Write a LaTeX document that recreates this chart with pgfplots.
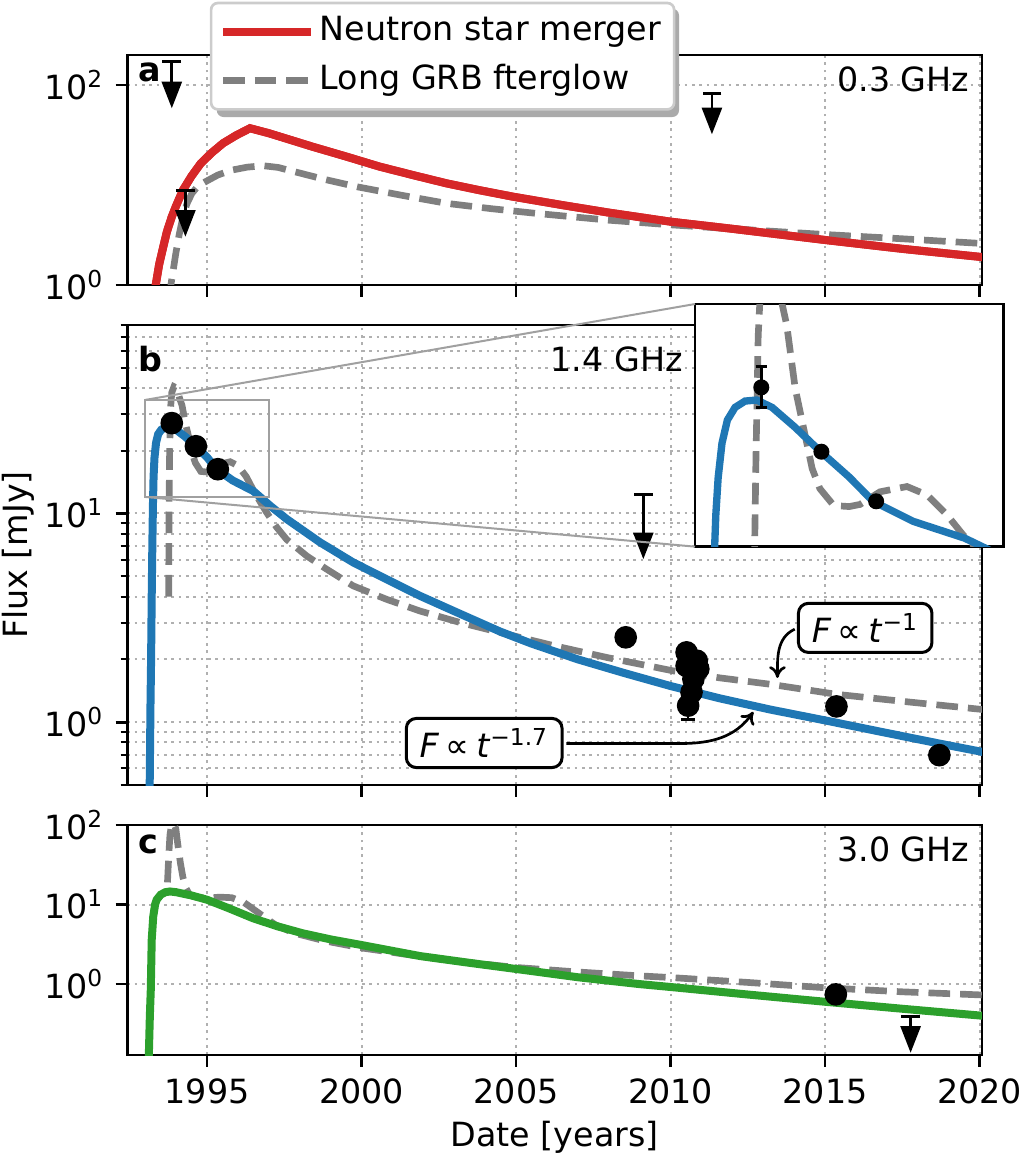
\documentclass[border=0pt]{standalone}
\usepackage{fontspec}
\setmainfont{DejaVu Sans}
\usepackage{pgfplots}
\pgfplotsset{compat=1.18}
\usetikzlibrary{arrows.meta}
\definecolor{nsred}{RGB}{214,39,40}
\definecolor{mblue}{RGB}{31,119,180}
\definecolor{mgreen}{RGB}{44,160,44}
\definecolor{mgray}{RGB}{127,127,127}
\definecolor{gridgray}{RGB}{176,176,176}
\definecolor{legedge}{RGB}{204,204,204}
\definecolor{shadowgray}{RGB}{170,170,170}
\definecolor{insetgray}{RGB}{160,160,160}

\begin{document}
\begin{tikzpicture}

% ---------------- panel a : 0.3 GHz ----------------
\begin{axis}[scale only axis, width=256.41pt, height=69pt, anchor=south west, at={(38.19pt,260.7pt)},
  xmin=1992.42, xmax=2020.08, ymode=log, ymin=1, ymax=200,
  xtick={1995,2000,2005,2010,2015,2020}, xticklabels={},
  ytick={1,100}, yticklabels={10\textsuperscript{0},10\textsuperscript{2}},
  tick pos=left, tick align=outside, major tick length=3.5pt,
  major tick style={black, line width=0.8pt},
  axis line style={line width=0.8pt},
  xmajorgrids=true, ymajorgrids=true, yminorticks=false,
  major grid style={gridgray, line width=0.6pt, dash pattern=on 0.8pt off 1.4pt},
  clip mode=individual,
  legend cell align=left,
  legend image code/.code={\draw[#1] (0pt,0pt) -- (22.7pt,0pt); \path (0pt,0pt) -- (26.3pt,0pt);},
  legend style={at={(0.0965,1.2317)}, anchor=north west, draw=legedge, line width=0.8pt,
    fill=white, rounded corners=2pt, inner ysep=1.6pt, inner xsep=2.4pt, row sep=0.7pt,
    nodes={inner xsep=1.5pt, inner ysep=2pt, text height=7.5pt, text depth=2.5pt}},
  ]
\addplot[nsred, line width=2.4pt] coordinates {
(1993.30,0.8) (1993.34,1.0) (1993.45,1.6) (1993.56,2.24) (1993.70,3.4) (1993.86,4.82)
(1994.00,6.2) (1994.22,8.9) (1994.50,12.3) (1994.80,16.5) (1995.15,21) (1995.52,26.2)
(1995.95,31.5) (1996.39,37) (1997.00,33) (1997.70,28.3) (1998.41,24.2) (1999.50,19.3)
(2000.58,15.3) (2001.70,12.5) (2002.75,10.4) (2003.80,8.9) (2004.90,7.65) (2006.50,6.3)
(2008.00,5.3) (2010.00,4.3) (2012.00,3.65) (2015.00,2.82) (2017.50,2.3) (2020.10,1.9)};
\addlegendentry{Neutron star merger}
\addplot[mgray, line width=2pt, dash pattern=on 6.5pt off 3pt] coordinates {
(1993.80,0.7) (1993.83,1.0) (1993.92,1.5) (1993.99,2.07) (1994.10,3.2) (1994.22,4.82)
(1994.35,6.5) (1994.51,8.26) (1994.70,9.7) (1994.95,10.8) (1995.35,12.6) (1995.80,14.1)
(1996.30,15.1) (1996.82,15.6) (1997.30,15.0) (1997.83,13.6) (1998.80,11.4) (1999.86,9.6)
(2001.30,7.9) (2002.75,6.56) (2004.20,5.8) (2005.64,5.21) (2008.00,4.45) (2010.00,4.0)
(2012.00,3.65) (2015.00,3.2) (2017.50,2.9) (2020.10,2.6)};
\addlegendentry{Long GRB fterglow}
\addplot[nsred, line width=2.4pt, forget plot] coordinates {
(1993.30,0.8) (1993.34,1.0) (1993.45,1.6) (1993.56,2.24) (1993.70,3.4) (1993.86,4.82)
(1994.00,6.2) (1994.22,8.9) (1994.50,12.3) (1994.80,16.5) (1995.15,21) (1995.52,26.2)
(1995.95,31.5) (1996.39,37) (1997.00,33) (1997.70,28.3) (1998.41,24.2) (1999.50,19.3)
(2000.58,15.3) (2001.70,12.5) (2002.75,10.4) (2003.80,8.9) (2004.90,7.65) (2006.50,6.3)
(2008.00,5.3) (2010.00,4.3) (2012.00,3.65) (2015.00,2.82) (2017.50,2.3) (2020.10,1.9)};
\addplot[black, line width=0.8pt, -{Triangle[width=6pt,length=8pt]}, forget plot] coordinates {(1993.86,171) (1993.86,58.6)};
\addplot[black, only marks, mark=-, mark size=2.8pt, mark options={line width=0.9pt}, forget plot] coordinates {(1993.86,171)};
\addplot[black, line width=0.8pt, -{Triangle[width=6pt,length=8pt]}, forget plot] coordinates {(1994.30,8.92) (1994.30,3.04)};
\addplot[black, only marks, mark=-, mark size=2.8pt, mark options={line width=0.9pt}, forget plot] coordinates {(1994.30,8.92)};
\addplot[black, line width=0.8pt, -{Triangle[width=6pt,length=8pt]}, forget plot] coordinates {(2011.34,82.7) (2011.34,32.2)};
\addplot[black, only marks, mark=-, mark size=2.8pt, mark options={line width=0.9pt}, forget plot] coordinates {(2011.34,82.7)};
\node[anchor=base west, font=\bfseries, inner sep=0pt] at (rel axis cs:0.0125,0.884) {a};
\node[anchor=base east, inner sep=0pt] at (rel axis cs:0.986,0.840) {0.3 GHz};
\fill[shadowgray, rounded corners=2pt] (rel axis cs:0.1047,0.7304) rectangle (rel axis cs:0.6455,1.2013);
\end{axis}

% ---------------- panel b : 1.4 GHz ----------------
\begin{axis}[scale only axis, width=256.41pt, height=138pt, anchor=south west, at={(38.19pt,110.7pt)},
  xmin=1992.42, xmax=2020.08, ymode=log, ymin=0.5, ymax=80,
  xtick={1995,2000,2005,2010,2015,2020}, xticklabels={},
  ytick={1,10}, yticklabels={10\textsuperscript{0},10\textsuperscript{1}},
  minor ytick={0.5,0.6,0.7,0.8,0.9,2,3,4,5,6,7,8,9,20,30,40,50,60,70,80},
  tick pos=left, tick align=outside, major tick length=3.5pt, minor tick length=2pt,
  major tick style={black, line width=0.8pt}, minor tick style={black, line width=0.6pt},
  axis line style={line width=0.8pt},
  xmajorgrids=true, ymajorgrids=true, yminorgrids=true,
  major grid style={gridgray, line width=0.6pt, dash pattern=on 0.8pt off 1.4pt},
  minor grid style={gridgray, line width=0.6pt, dash pattern=on 0.8pt off 1.4pt},
  ]
\addplot[mgray, line width=2pt, dash pattern=on 6.5pt off 3pt] coordinates {
(1993.76,4.0) (1993.77,10) (1993.79,20) (1993.82,32) (1993.86,38) (1993.93,40.5)
(1994.00,40) (1994.07,37.5) (1994.13,35) (1994.19,33) (1994.30,27) (1994.41,23.2)
(1994.52,19.4) (1994.62,17.5) (1994.80,15.9) (1995.00,15.8) (1995.14,16.0) (1995.40,17.2)
(1995.75,17.7) (1996.01,16.9) (1996.27,15.0) (1996.48,13.1) (1996.70,11.5) (1996.93,10.1)
(1997.25,8.6) (1997.58,7.5) (1998.22,6.27) (1998.87,5.41) (1999.73,4.5) (2000.81,3.88)
(2001.89,3.41) (2003.20,3.0) (2004.48,2.69) (2006.20,2.33) (2007.95,2.04) (2010.10,1.76)
(2011.60,1.63) (2013.22,1.52) (2015.37,1.36) (2017.70,1.25) (2020.10,1.15)};
\addplot[mblue, line width=2.4pt] coordinates {
(1993.13,0.3) (1993.17,1.2) (1993.19,2.0) (1993.21,4.0) (1993.23,7.0) (1993.25,11)
(1993.27,15) (1993.30,18.5) (1993.35,21.8) (1993.42,24.0) (1993.52,25.2) (1993.65,25.8)
(1993.80,25.9) (1994.00,25.2) (1994.30,23.3) (1994.63,21) (1995.00,18.6) (1995.31,16.3)
(1995.83,14.4) (1996.50,12.8) (1997.04,10.9) (1997.58,9.4) (1998.66,7.27) (1999.73,5.83)
(2000.81,4.84) (2001.89,4.03) (2003.20,3.3) (2004.48,2.72) (2005.50,2.38) (2007.00,2.0)
(2008.50,1.72) (2010.00,1.49) (2011.60,1.3) (2013.22,1.15) (2015.00,1.02) (2016.80,0.9)
(2018.70,0.79) (2020.10,0.72)};
\addplot[black, only marks, mark=*, mark size=3.2pt, mark options={fill=black, draw=black},
  error bars/.cd, y dir=both, y explicit,
  error bar style={black, line width=0.8pt},
  error mark options={rotate=90, mark size=2pt, line width=0.8pt, black}] coordinates {
(1993.86,27.1) +- (0,1.95)
(1994.64,21.0) +- (0,0.5)
(1995.35,16.3) +- (0,0.4)
(2008.55,2.55) +- (0,0.1)
(2010.52,2.16) +- (0,0.1)
(2010.85,1.97) +- (0,0.1)
(2010.90,1.80) +- (0,0.1)
(2010.52,1.86) +- (0,0.1)
(2010.74,1.61) +- (0,0.1)
(2010.68,1.39) +- (0,0.1)
(2010.57,1.20) +- (0,0.17)
(2015.37,1.19) +- (0,0.05)
(2018.70,0.695) +- (0,0.03)};
\addplot[black, line width=0.8pt, -{Triangle[width=6pt,length=8pt]}] coordinates {(2009.12,12.3) (2009.12,6.04)};
\addplot[black, only marks, mark=-, mark size=2.8pt, mark options={line width=0.9pt}] coordinates {(2009.12,12.3)};
\draw[insetgray, line width=0.6pt] (axis cs:1993,12) rectangle (axis cs:1997,35);
\coordinate (rtl) at (axis cs:1993,35);
\coordinate (rbl) at (axis cs:1993,12);
\node[anchor=base west, font=\bfseries, inner sep=0pt] at (rel axis cs:0.0125,0.8985) {b};
\node[anchor=base east, inner sep=0pt] at (rel axis cs:0.6505,0.8985) {1.4 GHz};
\draw[black, line width=0.8pt, -{To[length=3.5pt,width=5pt]}]
  (axis cs:2014.02,2.79) to[out=205, in=90] (axis cs:2013.46,1.63);
\draw[black, line width=0.8pt, -{To[length=3.5pt,width=5pt]}]
  (axis cs:2006.63,0.79) -- (axis cs:2010.3,0.79) to[out=0, in=235] (axis cs:2012.68,1.12);
\node[draw=black, fill=white, line width=0.9pt, rounded corners=3pt, inner xsep=4pt, inner ysep=3pt]
  at (axis cs:2016.3,2.83) {\textit{F}\hspace{0.2em}∝\hspace{0.2em}\textit{t}\textsuperscript{−1}};
\node[draw=black, fill=white, line width=0.9pt, rounded corners=3pt, inner xsep=4pt, inner ysep=3pt]
  at (axis cs:2003.97,0.795) {\textit{F}\hspace{0.2em}∝\hspace{0.2em}\textit{t}\textsuperscript{−1.7}};
\end{axis}

% ---------------- inset ----------------
\begin{axis}[name=inset, scale only axis, anchor=south west, at={(208.5pt,182.2pt)},
  width=92.5pt, height=72.8pt, xmin=1993, xmax=1997, ymin=12, ymax=35,
  xtick=\empty, ytick=\empty, axis line style={line width=0.8pt},
  axis background/.style={fill=white}]
\addplot[mgray, line width=2pt, dash pattern=on 6.5pt off 3pt] coordinates {
(1993.76,4.0) (1993.77,10) (1993.79,20) (1993.82,32) (1993.86,38) (1993.93,40.5)
(1994.00,40) (1994.07,37.5) (1994.13,35) (1994.19,33) (1994.30,27) (1994.41,23.2)
(1994.52,19.4) (1994.62,17.5) (1994.80,15.9) (1995.00,15.8) (1995.14,16.0) (1995.40,17.2)
(1995.75,17.7) (1996.01,16.9) (1996.27,15.0) (1996.48,13.1) (1996.70,11.5) (1996.93,10.1)
(1997.25,8.6)};
\addplot[mblue, line width=2.2pt] coordinates {
(1993.13,0.3) (1993.17,1.2) (1993.19,2.0) (1993.21,4.0) (1993.23,7.0) (1993.25,11)
(1993.27,15) (1993.30,18.5) (1993.35,21.8) (1993.42,24.0) (1993.52,25.2) (1993.65,25.8)
(1993.80,25.9) (1994.00,25.2) (1994.30,23.3) (1994.63,21) (1995.00,18.6) (1995.31,16.3)
(1995.83,14.4) (1996.50,12.8) (1997.04,10.9) (1997.58,9.4)};
\addplot[black, only marks, mark=*, mark size=2.2pt, mark options={fill=black, draw=black},
  error bars/.cd, y dir=both, y explicit,
  error bar style={black, line width=0.8pt},
  error mark options={rotate=90, mark size=1.7pt, line width=0.9pt, black}] coordinates {
(1993.86,27.1) +- (0,1.95)
(1994.64,21.0) +- (0,0.3)
(1995.35,16.3) +- (0,0.4)};
\end{axis}

\draw[insetgray, line width=0.6pt] (rtl) -- (inset.north west);
\draw[insetgray, line width=0.6pt] (rbl) -- (inset.south west);

% ---------------- panel c : 3.0 GHz ----------------
\begin{axis}[scale only axis, width=256.41pt, height=69pt, anchor=south west, at={(38.19pt,29.7pt)},
  xmin=1992.42, xmax=2020.08, ymode=log, ymin=0.1285, ymax=100,
  xtick={1995,2000,2005,2010,2015,2020}, xticklabels={1995,2000,2005,2010,2015,2020},
  ytick={1,10,100}, yticklabels={10\textsuperscript{0},10\textsuperscript{1},10\textsuperscript{2}},
  tick pos=left, tick align=outside, major tick length=3.5pt,
  major tick style={black, line width=0.8pt},
  axis line style={line width=0.8pt},
  xmajorgrids=true, ymajorgrids=true, yminorticks=false,
  major grid style={gridgray, line width=0.6pt, dash pattern=on 0.8pt off 1.4pt},
  ]
\addplot[mgray, line width=2pt, dash pattern=on 6.5pt off 3pt] coordinates {
(1993.72,19) (1993.76,40) (1993.80,75) (1993.85,100) (1993.92,104) (1993.99,90)
(1994.06,55) (1994.14,33) (1994.22,22) (1994.32,16) (1994.45,13) (1994.70,12.3)
(1995.00,12.0) (1995.40,12.4) (1995.80,12.2) (1996.20,10.6) (1996.60,8.2) (1997.20,5.6)
(1997.80,4.4) (1998.80,3.5) (2000.00,2.85) (2001.50,2.35) (2003.00,1.95) (2005.00,1.62)
(2007.00,1.42) (2009.00,1.27) (2010.00,1.21) (2012.50,1.05) (2015.00,0.90) (2017.50,0.80)
(2020.10,0.73)};
\addplot[mgreen, line width=2.4pt] coordinates {
(1993.11,0.1) (1993.15,0.4) (1993.18,0.85) (1993.21,3.6) (1993.26,7.1) (1993.32,10)
(1993.37,11.5) (1993.50,13.3) (1993.65,14.3) (1993.80,14.6) (1994.00,14.3) (1994.50,13)
(1995.00,11.5) (1995.70,9.0) (1996.50,6.7) (1997.30,5.3) (1998.10,4.35) (1999.00,3.65)
(2000.00,3.1) (2001.90,2.25) (2003.50,1.85) (2005.00,1.55) (2007.00,1.22) (2009.00,1.0)
(2010.00,0.92) (2012.50,0.74) (2015.00,0.6) (2017.50,0.49) (2020.10,0.40)};
\addplot[black, only marks, mark=*, mark size=3.2pt, mark options={fill=black, draw=black}] coordinates {(2015.35,0.743)};
\addplot[black, line width=0.8pt, -{Triangle[width=6pt,length=8pt]}] coordinates {(2017.77,0.396) (2017.77,0.137)};
\addplot[black, only marks, mark=-, mark size=2.8pt, mark options={line width=0.9pt}] coordinates {(2017.77,0.396)};
\node[anchor=base west, font=\bfseries, inner sep=0pt] at (rel axis cs:0.0125,0.877) {c};
\node[anchor=base east, inner sep=0pt] at (rel axis cs:0.986,0.840) {3.0 GHz};
\end{axis}

\node[rotate=90, anchor=center] at (5.4pt,179.7pt) {Flux [mJy]};
\node[anchor=base] at (166.4pt,2.2pt) {Date [years]};

\pgfresetboundingbox
\path[use as bounding box] (0,0) rectangle (306pt,346.2pt);
\end{tikzpicture}
\end{document}
